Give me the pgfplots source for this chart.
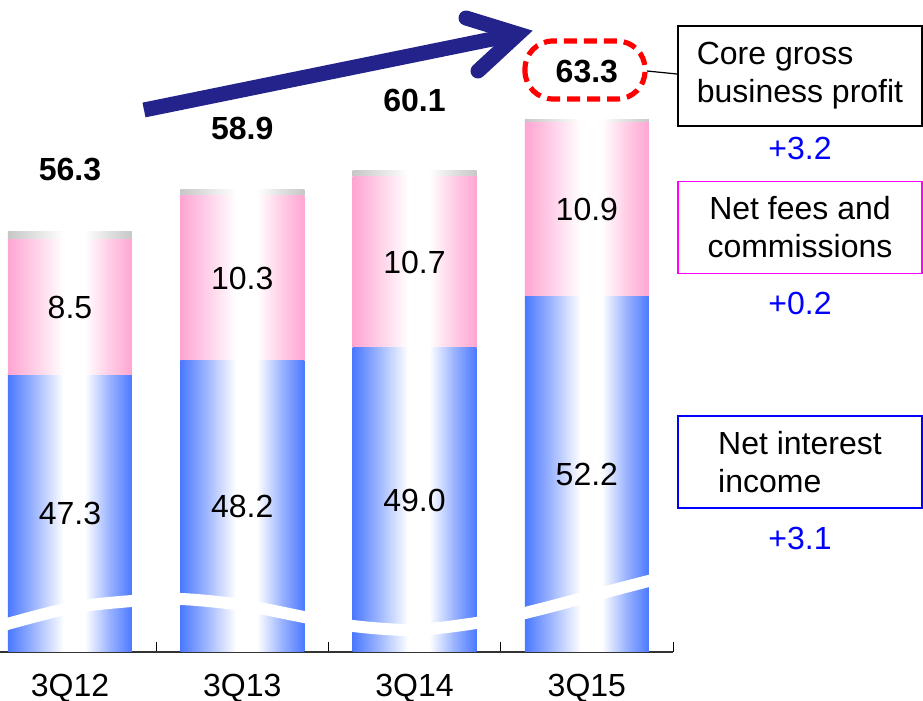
\documentclass[border=0pt]{standalone}
\usepackage{pgfplots}
\usepackage{pgfplotstable}
\pgfplotsset{compat=1.18}
\usepackage{fontspec}
\setmainfont{Liberation Sans}
\definecolor{barblue}{RGB}{51,102,255}
\definecolor{barpink}{RGB}{255,153,204}
\definecolor{bargray}{RGB}{192,192,192}
\colorlet{midblue}{barblue!50!white}
\colorlet{midpink}{barpink!50!white}
\colorlet{midgray}{bargray!50!white}
\definecolor{navy}{RGB}{35,35,139}
\definecolor{boxmagenta}{RGB}{255,0,255}
\definecolor{plusblue}{RGB}{0,0,255}
\pgfdeclarehorizontalshading{blueshade}{100bp}{color(0bp)=(barblue); color(22bp)=(barblue); color(35bp)=(midblue); color(47.5bp)=(white); color(56bp)=(white); color(66bp)=(midblue); color(78bp)=(barblue); color(100bp)=(barblue)}
\pgfdeclarehorizontalshading{pinkshade}{100bp}{color(0bp)=(barpink); color(22bp)=(barpink); color(35bp)=(midpink); color(47.5bp)=(white); color(56bp)=(white); color(66bp)=(midpink); color(78bp)=(barpink); color(100bp)=(barpink)}
\pgfdeclarehorizontalshading{grayshade}{100bp}{color(0bp)=(bargray); color(22bp)=(bargray); color(35bp)=(midgray); color(47.5bp)=(white); color(56bp)=(white); color(66bp)=(midgray); color(78bp)=(bargray); color(100bp)=(bargray)}
\newcommand{\bigfont}{\fontsize{16}{19}\selectfont}

\pgfplotstableread{
x blue pink gray
0 47.3 8.5 0.5
1 48.2 10.3 0.4
2 49.0 10.7 0.4
3 52.2 10.9 0.2
}\bardata

\pgfplotstableread{
x y label
0 38.65 47.3
1 39.10 48.2
2 39.50 49.0
3 41.10 52.2
0 51.55 8.5
1 53.35 10.3
2 54.35 10.7
3 57.65 10.9
}\segdata

\pgfplotstableread{
x y label
0 60.125 56.3
1 62.75 58.9
2 64.5 60.1
3 66.25 63.3
}\totdata

\begin{document}
\begin{tikzpicture}
\useasboundingbox (0pt,0pt) rectangle (461.5pt,-350.5pt);
\pgfplotsset{
  commonaxis/.style={
    at={(0pt,-326pt)}, anchor=south west,
    scale only axis, width=336.5pt, height=326pt,
    xmin=-0.406, xmax=3.5, ymin=30, ymax=70.75,
    enlargelimits=false,
  }
}
% axis line and ticks
\begin{axis}[commonaxis,
  axis x line*=bottom, axis y line=none,
  x axis line style={black!80, line width=0.6pt},
  xtick={0,1,2,3}, xticklabels={3Q12,3Q13,3Q14,3Q15},
  major x tick style={draw=none},
  minor xtick={0.5,1.5,2.5,3.5},
  minor tick length=5pt,
  minor x tick style={black, line width=0.5pt},
  tick align=inside,
  xticklabel style={font=\bigfont, anchor=base, yshift=-22pt},
]
\addplot[draw=none, mark=none] coordinates {(0,30)};
\end{axis}
% one stacked bar per axis, so that each bar gets its own shading
\foreach \i in {0,1,2,3}{
\begin{axis}[commonaxis, hide axis,
  ybar stacked, bar width=62pt,
  restrict x to domain=\i:\i,
]
\addplot[draw=none, shade, shading=blueshade] table[x=x, y=blue] {\bardata};
\addplot[draw=none, shade, shading=pinkshade] table[x=x, y=pink] {\bardata};
\addplot[draw=none, shade, shading=grayshade] table[x=x, y=gray] {\bardata};
\end{axis}
}

\begin{scope}[x=0.5pt, y=-0.5pt]
% axis break wave
\draw[white, line width=6pt] plot[smooth] coordinates {(0,626) (70,608) (132,601) (181,599) (242,605) (304,617) (353,626) (414,630) (476,623) (525,613) (587,597) (660,578)};
\end{scope}

\begin{axis}[commonaxis, hide axis, clip=false]
\addplot[draw=none, mark=none, nodes near coords, point meta=explicit symbolic,
  nodes near coords align=center,
  every node near coord/.append style={anchor=center, font=\bigfont, text=black}]
  table[x=x, y=y, meta=label] {\segdata};
\addplot[draw=none, mark=none, nodes near coords, point meta=explicit symbolic,
  nodes near coords align=center,
  every node near coord/.append style={anchor=center, font=\bigfont\bfseries, text=black}]
  table[x=x, y=y, meta=label] {\totdata};
\end{axis}

\begin{scope}[x=0.5pt, y=-0.5pt]
% arrow
\draw[navy, line width=7.5pt] (144,110) -- (508,35.8);
\draw[navy, line width=7.5pt, line cap=round, line join=miter] (466,18) -- (518,34) -- (478,71);
% dashed highlight
\draw[red, line width=2.6pt, dash pattern=on 6.5pt off 3.5pt, rounded corners=14pt] (525,41) rectangle (645,99);
\draw[black, line width=0.6pt] (647,71) -- (677,74);
% boxes
\node[draw=black, line width=1pt, minimum width=122pt, minimum height=50pt, inner sep=0pt, align=left, font=\bigfont] at (800,76) {Core gross\\business profit};
\node[text=plusblue, font=\bigfont] at (800,148) {+3.2};
\node[draw=boxmagenta, line width=0.7pt, minimum width=122pt, minimum height=46pt, inner sep=0pt, align=center, font=\bigfont] at (800,227.5) {Net fees and\\commissions};
\node[text=plusblue, font=\bigfont] at (800,303) {+0.2};
\node[draw=plusblue, line width=0.7pt, minimum width=122pt, minimum height=46pt, inner sep=0pt, align=left, font=\bigfont] at (800,462) {Net interest\\income};
\node[text=plusblue, font=\bigfont] at (800,538) {+3.1};
\end{scope}
\end{tikzpicture}
\end{document}
